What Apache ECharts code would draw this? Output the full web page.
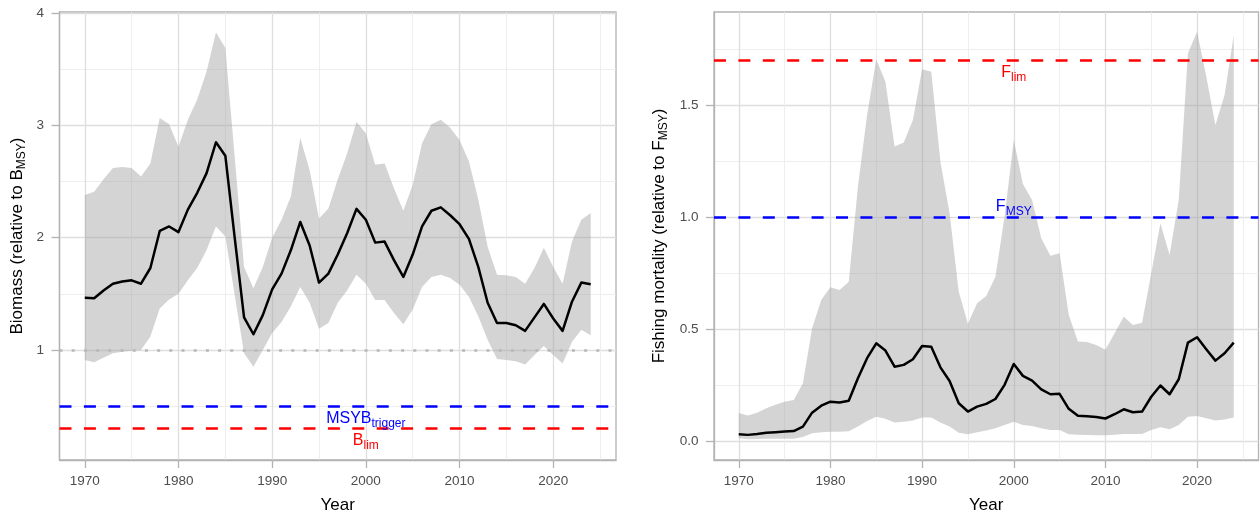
<!DOCTYPE html>
<html><head><meta charset="utf-8">
<script src="https://cdn.jsdelivr.net/npm/echarts@6/dist/echarts.min.js"></script>
<style>html,body{margin:0;padding:0;background:#fff}#c{width:1260px;height:518px}</style>
</head><body><div id="c"></div>
<script>
const years = [1970,1971,1972,1973,1974,1975,1976,1977,1978,1979,1980,1981,1982,1983,1984,1985,1986,1987,1988,1989,1990,1991,1992,1993,1994,1995,1996,1997,1998,1999,2000,2001,2002,2003,2004,2005,2006,2007,2008,2009,2010,2011,2012,2013,2014,2015,2016,2017,2018,2019,2020,2021,2022,2023,2024];
const biomass = [1.466,1.46,1.53,1.59,1.61,1.62,1.59,1.73,2.06,2.10, 2.05,2.25,2.40,2.575,2.85,2.73,2.0,1.29,1.14,1.31, 1.54,1.68,1.89,2.14,1.93,1.60,1.68,1.85,2.04,2.257, 2.16,1.956,1.965,1.80,1.65,1.85,2.10,2.24,2.27,2.20, 2.12,1.99,1.74,1.42,1.24,1.24,1.22,1.17,1.29,1.41, 1.28,1.17,1.43,1.60,1.585];
const biomassHigh = [2.38,2.41,2.52,2.62,2.63,2.62,2.545,2.66,3.065,3.01, 2.81,3.05,3.23,3.48,3.83,3.69,2.72,1.74,1.55,1.74, 2.0,2.16,2.37,2.89,2.60,2.17,2.26,2.52,2.75,3.03, 2.93,2.65,2.66,2.44,2.24,2.47,2.84,3.01,3.05,2.98, 2.87,2.68,2.34,1.92,1.67,1.665,1.65,1.59,1.73,1.91, 1.74,1.59,1.965,2.16,2.22];
const biomassLow = [0.91,0.89,0.93,0.97,0.985,0.994,1.0,1.12,1.37,1.45, 1.50,1.62,1.73,1.89,2.10,2.01,1.49,0.97,0.85,1.0, 1.15,1.25,1.39,1.56,1.42,1.19,1.24,1.42,1.53,1.67, 1.59,1.445,1.445,1.33,1.23,1.36,1.56,1.65,1.67,1.64, 1.58,1.475,1.30,1.09,0.92,0.91,0.90,0.87,0.955,1.035, 0.955,0.88,1.07,1.18,1.13];
const fishing = [0.033,0.030,0.034,0.039,0.042,0.045,0.047,0.067,0.129,0.16, 0.178,0.174,0.182,0.282,0.372,0.438,0.406,0.334,0.342,0.367, 0.426,0.423,0.331,0.27,0.171,0.134,0.156,0.168,0.19,0.253, 0.346,0.293,0.272,0.233,0.211,0.213,0.146,0.115,0.113,0.110, 0.103,0.122,0.144,0.131,0.134,0.20,0.25,0.211,0.278,0.441, 0.465,0.412,0.361,0.394,0.441];
const fishingHigh = [0.127,0.116,0.129,0.149,0.164,0.178,0.186,0.26,0.505,0.631, 0.688,0.676,0.713,1.136,1.456,1.704,1.604,1.315,1.333,1.434, 1.66,1.649,1.248,1.018,0.668,0.525,0.617,0.649,0.735,1.003, 1.344,1.148,1.077,0.906,0.828,0.84,0.565,0.446,0.444,0.431, 0.409,0.483,0.557,0.52,0.53,0.75,0.973,0.832,1.077,1.731, 1.827,1.627,1.411,1.545,1.812];
const fishingLow = [0.015,0.011,0.012,0.013,0.013,0.013,0.013,0.02,0.037,0.042, 0.044,0.044,0.046,0.067,0.092,0.111,0.102,0.085,0.088,0.094, 0.107,0.107,0.085,0.067,0.04,0.033,0.042,0.049,0.06,0.074, 0.089,0.074,0.07,0.06,0.052,0.052,0.033,0.03,0.029,0.028, 0.028,0.03,0.034,0.034,0.034,0.052,0.064,0.055,0.074,0.111, 0.114,0.104,0.094,0.099,0.107];

const xMajorTicks = [1970,1980,1990,2000,2010,2020];
const xMinorTicks = [1975,1985,1995,2005,2015,2025];
const bMajorTicks = [1,2,3,4];
const bMinorTicks = [0.5,1.5,2.5,3.5];
const fMajorTicks = [0,0.5,1,1.5];
const fMinorTicks = [0.25,0.75,1.25,1.75];

// reference levels
const bOne = 1, bTrigger = 0.5, bLim = 0.3;
const fMsy = 1.0, fLim = 1.7;
// annotation anchors [year, value, text, subscript]
const bAnnot = [[2000, 0.4, 'MSYB', 'trigger'], [2000, 0.2, 'B', 'lim']];
const fAnnot = [[2000, 1.65, 'F', 'lim'], [2000, 1.05, 'F', 'MSY']];

const FONT = '"Liberation Sans", Arial, sans-serif';
const GRIDC = '#DEDEDE', MINORC = '#EAEAEA', TICKC = '#B3B3B3', LABC = '#4D4D4D';
const RED = '#FF0000', BLUE = '#0000FF';
const DASH = [12, 12.4];

function xAxes(gi) {
  return [
    {type:'value', gridIndex:gi, min:1967.3, max:2026.7, position:'bottom',
     axisLine:{show:true, onZero:false, lineStyle:{color:TICKC, width:1.3}},
     axisTick:{show:true, length:8, customValues:xMajorTicks, lineStyle:{color:TICKC, width:1.3}},
     axisLabel:{customValues:xMajorTicks, color:LABC, fontSize:13.5, fontFamily:FONT, margin:14, formatter:v=>String(v)},
     splitLine:{show:true, lineStyle:{color:GRIDC, width:1.3}},
     name:'Year', nameLocation:'middle', nameGap:37,
     nameTextStyle:{color:'#000', fontSize:17, fontFamily:FONT}},
    {type:'value', gridIndex:gi, min:1967.3, max:2026.7, position:'bottom',
     axisLine:{show:false, onZero:false},
     axisTick:{show:false, customValues:xMinorTicks},
     axisLabel:{show:false, customValues:xMinorTicks},
     splitLine:{show:true, lineStyle:{color:MINORC, width:0.8}}}
  ];
}
function yAxes(gi, min, max, major, minor, fmt, name, gap) {
  return [
    {type:'value', gridIndex:gi, min:min, max:max, position:'left',
     axisLine:{show:true, onZero:false, lineStyle:{color:TICKC, width:1.3}},
     axisTick:{show:true, length:8, customValues:major, lineStyle:{color:TICKC, width:1.3}},
     axisLabel:{customValues:major, color:LABC, fontSize:13.5, fontFamily:FONT, margin:15.5, formatter:fmt},
     splitLine:{show:true, lineStyle:{color:GRIDC, width:1.3}},
     name:name, nameLocation:'middle', nameGap:gap, nameRotate:90,
     nameTextStyle:{color:'#000', fontSize:17, fontFamily:FONT,
       rich:{m:{fontSize:17, fontFamily:FONT, color:'#000', lineHeight:20, verticalAlign:'top'},
             s:{fontSize:12, fontFamily:FONT, color:'#000', lineHeight:14, padding:[7,0,0,0], verticalAlign:'top'}}}},
    {type:'value', gridIndex:gi, min:min, max:max, position:'left',
     axisLine:{show:false, onZero:false},
     axisTick:{show:false, customValues:minor},
     axisLabel:{show:false, customValues:minor},
     splitLine:{show:true, lineStyle:{color:MINORC, width:0.8}}}
  ];
}

function band(xi, yi, lo, hi) {
  return {
    type:'custom', xAxisIndex:xi, yAxisIndex:yi, silent:true, z:2,
    data: years.map((y,i)=>[y, lo[i], hi[i]]),
    renderItem: function(params, api) {
      if (params.dataIndex !== 0) return null;
      const pts = [];
      for (let i=0;i<years.length;i++) pts.push(api.coord([years[i], hi[i]]));
      for (let i=years.length-1;i>=0;i--) pts.push(api.coord([years[i], lo[i]]));
      return {type:'polygon', shape:{points:pts}, style:{fill:'rgba(160,160,160,0.45)'}};
    }
  };
}
function refLine(v, color, dash, width) {
  return {yAxis:v, lineStyle:{color:color, type:dash, width:width}};
}
function mainLine(xi, yi, vals, refs) {
  return {
    type:'line', xAxisIndex:xi, yAxisIndex:yi, z:3, silent:true,
    data: years.map((y,i)=>[y, vals[i]]),
    showSymbol:false, symbol:'none',
    lineStyle:{color:'#000', width:2.5, join:'round'},
    markLine:{silent:true, symbol:['none','none'], label:{show:false}, animation:false, data:refs}
  };
}
function annot(xi, yi, items, colors) {
  return {
    type:'custom', xAxisIndex:xi, yAxisIndex:yi, silent:true, z:5,
    data: items,
    renderItem: function(params, api) {
      const it = items[params.dataIndex];
      const p = api.coord([it[0], it[1]]);
      const c = colors[params.dataIndex];
      return {type:'text', x:p[0], y:p[1] + 3, style:{
        text:'{m|' + it[2] + '}{s|' + it[3] + '}', align:'center', verticalAlign:'middle',
        rich:{m:{fontSize:16, fontFamily:FONT, fill:c, lineHeight:20, verticalAlign:'top'},
              s:{fontSize:12, fontFamily:FONT, fill:c, lineHeight:14, padding:[7,0,0,0], verticalAlign:'top'}}
      }};
    }
  };
}

const chart = echarts.init(document.getElementById('c'), null, {renderer:'canvas'});
chart.setOption({
  animation:false,
  backgroundColor:'#fff',
  grid:[
    {left:59.5, top:12, right:644, bottom:58, containLabel:false, outerBoundsMode:'none', show:true, borderColor:TICKC, borderWidth:1.3, backgroundColor:'transparent'},
    {left:714, top:12, right:1.5, bottom:58, containLabel:false, outerBoundsMode:'none', show:true, borderColor:TICKC, borderWidth:1.3, backgroundColor:'transparent'}
  ],
  xAxis: xAxes(0).concat(xAxes(1)),
  yAxis: yAxes(0, 0.02, 4.01, bMajorTicks, bMinorTicks, v=>String(v), '{m|Biomass (relative to B}{s|MSY}{m|)}', 30.5)
    .concat(yAxes(1, -0.082, 1.915, fMajorTicks, fMinorTicks, v=>v.toFixed(1), '{m|Fishing mortality (relative to F}{s|MSY}{m|)}', 43)),
  series:[
    band(0, 0, biomassLow, biomassHigh),
    mainLine(0, 0, biomass, [
      refLine(bOne, '#B8B8B8', [3, 9.2], 2.5),
      refLine(bTrigger, BLUE, DASH, 2.5),
      refLine(bLim, RED, DASH, 2.5)
    ]),
    annot(0, 0, bAnnot, [BLUE, RED]),
    band(2, 2, fishingLow, fishingHigh),
    mainLine(2, 2, fishing, [
      refLine(fMsy, BLUE, DASH, 2.5),
      refLine(fLim, RED, DASH, 2.5)
    ]),
    annot(2, 2, fAnnot, [RED, BLUE])
  ]
});
</script></body></html>
